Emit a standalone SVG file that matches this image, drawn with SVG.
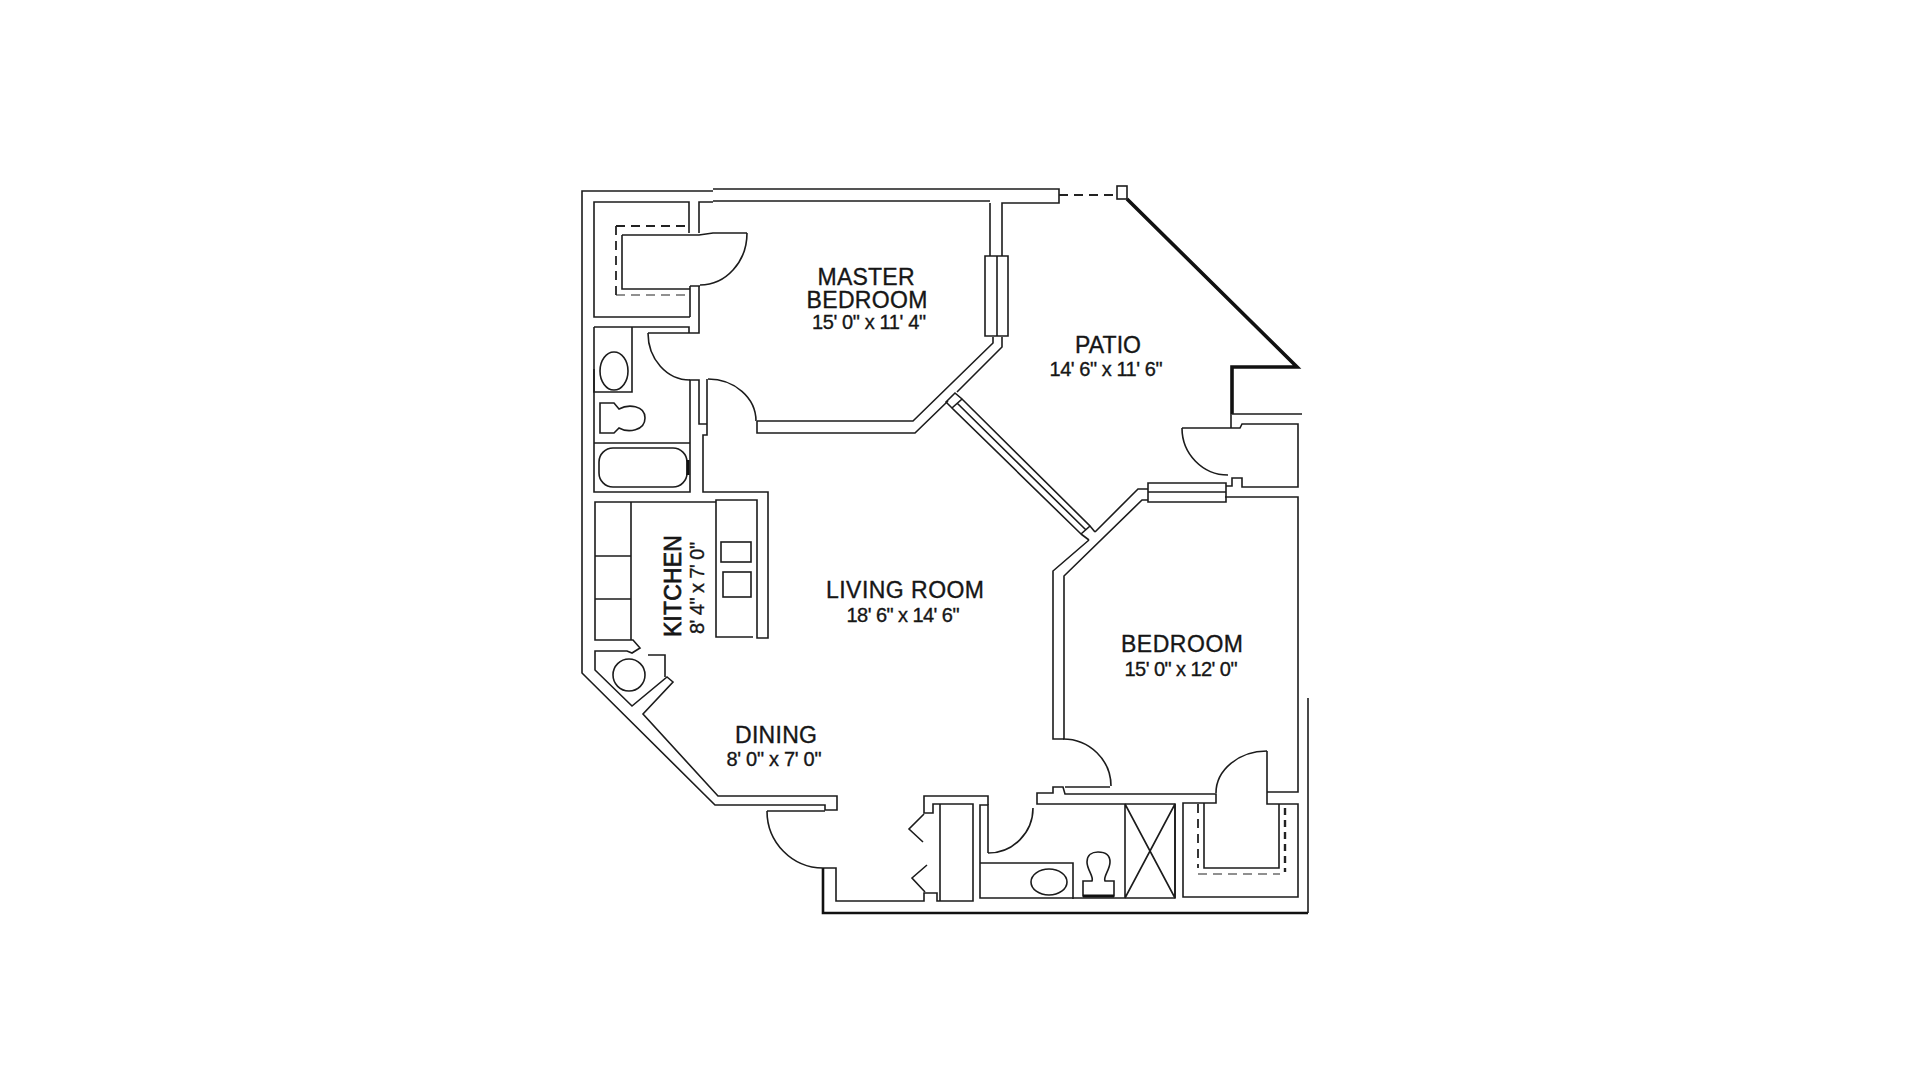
<svg xmlns="http://www.w3.org/2000/svg" width="1920" height="1080" viewBox="0 0 1920 1080">
<style>
.w{fill:none;stroke:#1c1c1c;stroke-width:1.6;stroke-linejoin:miter}
.h{fill:none;stroke:#111;stroke-width:3.6}
.d{fill:none;stroke:#222;stroke-width:1.8;stroke-dasharray:9 6}
.t{font-family:"Liberation Sans",Arial,sans-serif;fill:#161616;stroke:#161616;stroke-width:.35;text-anchor:middle}
.n{font-size:23px}
.s{font-size:20px}
</style>
<rect width="1920" height="1080" fill="#fff"/>
<g id="walls">
<path class="w" d="M713 191H582V673L715 805H825V810H837V796H718L643 714L673 682L667 677L632 706L595 670V651H627L632 653L640 648L633 640H595V502H716M631 502V640M595 556H631M595 599H631"/>
<path class="w" d="M713 189H1059V203H1002V256M990 203V256M713 201H990M699 233V202H713"/>
<path class="w" d="M689 233V202H594V317H690M690 286H700M690 286V317M699 286V333H648M594 327H689V333M594 327V492H690V380H699V424H707V379M699 424H707V435H703V492H768V638H757V500H716V637H753"/>
<path class="w" d="M757 421V433H915L948 401M757 421H913L993 343V337M1002 337V347L957 392"/>
<path class="w" d="M622 235H699L713 233H747M622 235V289H690"/>
<path class="w" d="M594 443H690M594 369V392H632V327"/>
<path class="h" d="M1127 199L1297 367H1232V414"/>
<path class="w" d="M1232 414H1302M1231 414V428H1182M1231 428H1240L1242 424H1298V487H1242V478H1232V486H1226"/>
<path class="w" d="M1225 497H1298V792H1267V751M1267 792V804H1298V897H1183V803H1216V794H1065L1063 787H1053V793H1037V804H1175V898H980V805H988V853M1064 739H1053V571L1089 540M1064 739V576L1142 500H1148M1095 532L1138 489H1148"/>
<path class="w" d="M980 863H1073V899"/>
<path class="w" d="M767 811H825M823 868H836V901H924V893H937V901H973V804H933V813H924V796H988V805M940 804V901"/>
<path class="h" style="stroke-width:2.6" d="M823 868V913H1308"/>
<path class="w" d="M1308 698V913"/>
<path class="w" d="M1204 803V868H1279V804"/>
<path class="w" d="M1125 804V898M1175 804V898M1125 804L1175 898M1175 804L1125 898"/>
</g>
<g id="doors">
<path class="w" d="M700 285A47 52 0 0 0 747 233M648 333A42 47 0 0 0 690 380M708 379A48 42 0 0 1 756 421M1182 428A46 47 0 0 0 1228 475M1111 786A48 47 0 0 0 1063 739M1267 751A51 42 0 0 0 1216 793M767 811A56 57 0 0 0 823 868M988 853A45 45 0 0 0 1033 808"/>
<path class="w" d="M1065 787H1110"/>
<path class="w" d="M924 814L909 829L923 842M927 865L912 878L925 892M648 655H665V677"/>
<path class="d" d="M616 226H689M616 226V295M1198 804V868"/>
<path class="d" style="stroke-width:1.2" d="M616 295H690M1198 874H1280"/>
<path class="d" style="stroke-width:2.4;stroke-dasharray:7 5" d="M1285 808V872"/>
<path class="d" d="M1059 195H1117"/>
</g>
<g id="windows">
<rect class="w" x="1117" y="186" width="10" height="13"/>
<path class="w" d="M985 256H1008V336H985ZM997 256V336"/>
<path class="w" d="M1148 483H1226V502H1148ZM1148 492H1226"/>
<path class="w" d="M962 399L1090 526L1081 534L952 408ZM957 403L1086 530M955 393L962 399L952 408L946 402ZM1081 534L1089 540M1090 526L1095 532"/>
</g>
<g id="fixtures">
<ellipse class="w" cx="614" cy="371" rx="14" ry="19"/>
<path class="w" d="M600 403H614L619 409C628 404 645 405 645 418S628 433 619 428L614 433H600Z"/>
<rect class="w" x="599" y="448" width="88" height="39" rx="14"/>
<path class="h" style="stroke-width:3" d="M688 460V475"/>
<rect class="w" x="721" y="542" width="30" height="20"/>
<rect class="w" x="723" y="572" width="28" height="25"/>
<circle class="w" cx="629" cy="675" r="16"/>
<ellipse class="w" cx="1049" cy="882" rx="18" ry="13"/>
<path class="w" d="M1083 896V881H1092C1094 876 1087 870 1087 862C1087 855 1092 852 1098 852C1105 852 1110 855 1110 862C1110 870 1103 876 1105 881H1114V896Z"/>
<path class="h" style="stroke-width:3" d="M1083 896H1114"/>
</g>
<g id="labels">
<text class="t n" x="866" y="285" textLength="97" lengthAdjust="spacing">MASTER</text>
<text class="t n" x="867" y="308" textLength="121" lengthAdjust="spacing">BEDROOM</text>
<text class="t s" x="869" y="329" textLength="114" lengthAdjust="spacing">15' 0" x 11' 4"</text>
<text class="t n" x="1108" y="353" textLength="66" lengthAdjust="spacing">PATIO</text>
<text class="t s" x="1106" y="376" textLength="113" lengthAdjust="spacing">14' 6" x 11' 6"</text>
<text class="t n" x="905" y="598" textLength="158" lengthAdjust="spacing">LIVING ROOM</text>
<text class="t s" x="903" y="622" textLength="113" lengthAdjust="spacing">18' 6" x 14' 6"</text>
<text class="t n" x="776" y="743" textLength="82" lengthAdjust="spacing">DINING</text>
<text class="t s" x="774" y="766" textLength="95" lengthAdjust="spacing">8' 0" x 7' 0"</text>
<text class="t n" x="1182" y="652" textLength="122" lengthAdjust="spacing">BEDROOM</text>
<text class="t s" x="1181" y="676" textLength="113" lengthAdjust="spacing">15' 0" x 12' 0"</text>
<text class="t n" transform="translate(681 586) rotate(-90)" textLength="102" lengthAdjust="spacing" style="stroke-width:.7">KITCHEN</text>
<text class="t s" transform="translate(704 588) rotate(-90)" textLength="92" lengthAdjust="spacing">8' 4" x 7' 0"</text>
</g>
</svg>
